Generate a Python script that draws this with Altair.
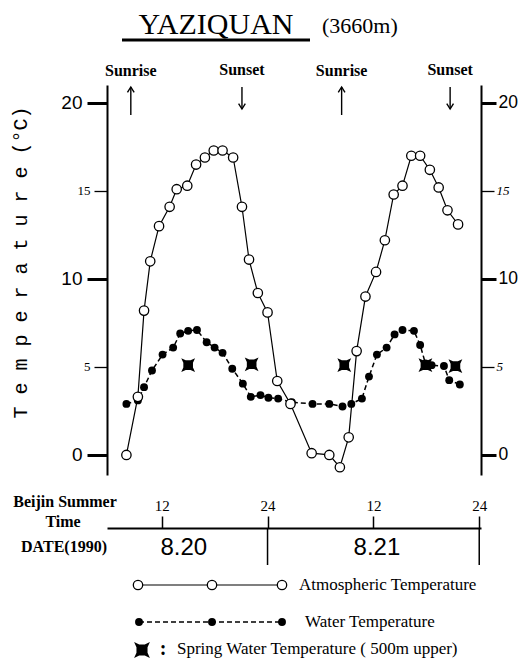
import altair as alt
import pandas as pd

# ---------------- data ----------------
atm_hour = [8.0, 9.3, 10.0, 10.7, 11.7, 12.9, 13.7, 14.9, 15.9, 16.9, 17.9, 18.9, 20.1, 21.1, 21.9,
            22.9, 24.0, 25.1, 26.6, 29.0, 31.0, 32.2, 33.2, 34.1, 35.1, 36.3, 37.3, 38.3, 39.3, 40.3,
            41.3, 42.4, 43.4, 44.4, 45.6]
atm_temp = [0.0, 3.3, 8.2, 11.0, 13.0, 14.1, 15.1, 15.3, 16.5, 16.9, 17.3, 17.3, 16.9, 14.1, 11.1,
            9.2, 8.1, 4.2, 2.9, 0.1, 0.0, -0.7, 1.0, 5.9, 9.0, 10.4, 12.2, 14.8, 15.3, 17.0,
            17.0, 16.2, 15.2, 13.9, 13.1]

water_hour = [8.0, 9.3, 10.0, 10.9, 12.1, 13.3, 14.1, 15.0, 16.0, 17.1, 18.0, 18.9, 20.0, 21.2, 22.1,
              23.2, 24.1, 25.2, 26.75, 29.1, 31.0, 32.5, 33.5, 34.7, 35.5, 36.4, 37.5, 38.4, 39.3,
              40.6, 41.3, 41.9, 42.6, 44.0, 44.6, 45.8]
water_temp = [2.9, 3.1, 3.85, 4.8, 5.7, 6.1, 6.9, 7.05, 7.1, 6.4, 6.1, 5.8, 4.9, 4.05, 3.3,
              3.4, 3.25, 3.2, 3.0, 2.9, 2.9, 2.75, 2.9, 3.2, 4.45, 5.7, 6.1, 6.85, 7.1,
              7.05, 6.25, 5.2, 5.1, 5.05, 4.25, 4.0]

spring_hour = [15.0, 22.2, 32.7, 41.9, 45.3]
spring_temp = [5.1, 5.15, 5.1, 5.1, 5.05]

sunrise_hour = [8.5, 32.4]
sunset_hour = [21.1, 44.7]

time_ticks = [12, 24, 36, 48]
day_bounds = [24, 48]
date_hour = [14.5, 36.4]
date_label = ["8.20", "8.21"]

y_ticks = [0, 5, 10, 15, 20]

atm = pd.DataFrame({"hour": atm_hour, "temp": atm_temp})
water = pd.DataFrame({"hour": water_hour, "temp": water_temp})
spring = pd.DataFrame({"hour": spring_hour, "temp": spring_temp})
rise = pd.DataFrame({"hour": sunrise_hour, "label": ["Sunrise"] * len(sunrise_hour)})
sets = pd.DataFrame({"hour": sunset_hour, "label": ["Sunset"] * len(sunset_hour)})
bounds = pd.DataFrame({"hour": day_bounds})
dates = pd.DataFrame({"hour": date_hour, "label": date_label})
one = pd.DataFrame({"a": [0]})

W, H = 374, 390
xs = alt.Scale(domain=[5.8, 48.2], nice=False, zero=False)
ys = alt.Scale(domain=[-1.14, 21.02], nice=False, zero=False)

MAJOR = "datum.value % 10 === 0"
SERIF = "Liberation Serif"
SANS = "Liberation Sans"

left_axis = alt.Axis(
    orient="left", values=y_ticks, grid=False,
    domainColor="black", domainWidth=2, tickColor="black",
    tickWidth={"condition": {"test": MAJOR, "value": 3}, "value": 1.3},
    tickSize={"condition": {"test": MAJOR, "value": 20}, "value": 13},
    labelFont={"condition": {"test": MAJOR, "value": SANS}, "value": SERIF},
    labelFontSize={"condition": {"test": MAJOR, "value": 19}, "value": 13},
    labelPadding={"condition": {"test": MAJOR, "value": 5}, "value": 4},
    labelColor="black",
    title="T e m p e r a t u r e  (°C)", titleFont="Liberation Mono", titleFontSize=20,
    titleFontWeight="normal", titleColor="black", titleAngle=270,
    titleX=-87, titleY=177, titleAlign="center", titleBaseline="middle",
)
right_axis = alt.Axis(
    orient="right", values=y_ticks, grid=False,
    domainColor="black", domainWidth=2, tickColor="black",
    tickWidth={"condition": {"test": MAJOR, "value": 3}, "value": 1.3},
    tickSize={"condition": {"test": MAJOR, "value": 15}, "value": 13},
    labelFont={"condition": {"test": MAJOR, "value": SANS}, "value": SERIF},
    labelFontSize={"condition": {"test": MAJOR, "value": 17.5}, "value": 13},
    labelFontStyle={"condition": {"test": MAJOR, "value": "normal"}, "value": "italic"},
    labelPadding=2, labelColor="black", title=None,
)
time_axis = alt.Axis(
    orient="top", offset=-443, values=time_ticks, grid=False,
    labelExpr="datum.value > 24 ? '' + (datum.value - 24) : datum.label",
    domainColor="black", domainWidth=2, tickColor="black", tickWidth=1.5, tickSize=12,
    labelFont=SERIF, labelFontSize=15, labelColor="black", labelPadding=3, title=None,
)

X = lambda ax=None: alt.X("hour:Q", scale=xs, axis=ax)

atm_line = alt.Chart(atm).mark_line(color="black", strokeWidth=1.2).encode(
    x=X(time_axis), y=alt.Y("temp:Q", scale=ys, axis=left_axis))
water_line = alt.Chart(water).mark_line(color="black", strokeWidth=1.5, strokeDash=[5, 3]).encode(
    x=X(), y=alt.Y("temp:Q", scale=ys, axis=right_axis))
water_pts = alt.Chart(water).mark_point(shape="circle", filled=True, color="black", opacity=1, size=62).encode(
    x=X(), y=alt.Y("temp:Q", scale=ys, axis=None))
STAR = ("M-1,-1 L-0.35,-0.7 L0.35,-0.7 L1,-1 L0.7,-0.35 L0.7,0.35 L1,1 L0.35,0.7 "
        "L-0.35,0.7 L-1,1 L-0.7,0.35 L-0.7,-0.35 Z")
spring_pts = alt.Chart(spring).mark_point(shape=STAR, filled=True, color="black", opacity=1, size=190).encode(
    x=X(), y=alt.Y("temp:Q", scale=ys, axis=None))
atm_pts = alt.Chart(atm).mark_point(shape="circle", filled=True, fill="white", stroke="black",
                                    strokeWidth=1.3, opacity=1, size=88).encode(
    x=X(), y=alt.Y("temp:Q", scale=ys, axis=None))

# sunrise / sunset
sun_text_r = alt.Chart(rise).mark_text(font=SERIF, fontSize=16, fontWeight="bold", baseline="middle",
                                        color="black").encode(x=X(), y=alt.value(-14), text="label:N")
sun_text_s = alt.Chart(sets).mark_text(font=SERIF, fontSize=16, fontWeight="bold", baseline="middle",
                                        color="black").encode(x=X(), y=alt.value(-15), text="label:N")
rise_shaft = alt.Chart(rise).mark_rule(color="black", strokeWidth=1.4).encode(
    x=X(), y=alt.value(2), y2=alt.value(30))
rise_head = alt.Chart(rise).mark_point(shape="M-1,1.6 L0,0 L1,1.6", filled=False, color="black",
                                       strokeWidth=1.4, opacity=1, size=45).encode(x=X(), y=alt.value(2))
set_shaft = alt.Chart(sets).mark_rule(color="black", strokeWidth=1.4).encode(
    x=X(), y=alt.value(2), y2=alt.value(24))
set_head = alt.Chart(sets).mark_point(shape="M-1,-1.6 L0,0 L1,-1.6", filled=False, color="black",
                                      strokeWidth=1.4, opacity=1, size=45).encode(x=X(), y=alt.value(24))

# title
title1 = alt.Chart(one).mark_text(text="YAZIQUAN", font=SERIF, fontSize=30, align="center",
                                  baseline="alphabetic", color="black").encode(x=alt.value(109), y=alt.value(-51))
title_ul = alt.Chart(one).mark_rule(color="black", strokeWidth=3).encode(
    x=alt.value(15), x2=alt.value(203), y=alt.value(-45))
title2 = alt.Chart(one).mark_text(text="(3660m)", font=SERIF, fontSize=22, align="left",
                                  baseline="alphabetic", color="black").encode(x=alt.value(215), y=alt.value(-52))

# bottom time / date axis texts
def lbl(txt, x, y, size=16, weight="bold", font=SERIF, align="center"):
    return alt.Chart(one).mark_text(text=txt, font=font, fontSize=size, fontWeight=weight, align=align,
                                    baseline="middle", color="black").encode(x=alt.value(x), y=alt.value(y))

bj1 = lbl("Beijin Summer", -42, 417)
bj2 = lbl("Time", -44, 437)
dt = lbl("DATE(1990)", -43, 462)
bound_rules = alt.Chart(bounds).mark_rule(color="black", strokeWidth=1.5).encode(
    x=X(), y=alt.value(443), y2=alt.value(480))
date_text = alt.Chart(dates).mark_text(font=SANS, fontSize=24, baseline="middle", color="black").encode(
    x=X(), y=alt.value(463), text="label:N")

# legend (drawn by hand)
leg_pts = pd.DataFrame({"lx": [31, 105, 175], "ly": [500, 500, 500]})
leg_pts2 = pd.DataFrame({"lx": [32, 105, 175], "ly": [537, 537, 537]})
leg_line1 = alt.Chart(one).mark_rule(color="black", strokeWidth=1.2).encode(
    x=alt.value(31), x2=alt.value(175), y=alt.value(500))
leg_circ1 = alt.Chart(leg_pts).mark_point(shape="circle", filled=True, fill="white", stroke="black",
                                          strokeWidth=1.3, opacity=1, size=88).encode(
    x=alt.X("lx:Q", scale=None), y=alt.Y("ly:Q", scale=None))
leg_line2 = alt.Chart(one).mark_rule(color="black", strokeWidth=1.5, strokeDash=[5, 3]).encode(
    x=alt.value(32), x2=alt.value(175), y=alt.value(537))
leg_circ2 = alt.Chart(leg_pts2).mark_point(shape="circle", filled=True, color="black", opacity=1, size=62).encode(
    x=alt.X("lx:Q", scale=None), y=alt.Y("ly:Q", scale=None))
leg_star = alt.Chart(one).mark_point(shape=STAR, filled=True, color="black", opacity=1, size=250).encode(
    x=alt.value(35), y=alt.value(565))
leg_t1 = lbl("Atmospheric Temperature", 192, 500, size=17, weight="normal", align="left")
leg_t2 = lbl("Water Temperature", 198, 537, size=17, weight="normal", align="left")
leg_colon = lbl(":", 56, 564, size=20, weight="bold", align="center")
leg_t3 = lbl("Spring Water Temperature ( 500m  upper)", 70, 564, size=17, weight="normal", align="left")

chart = alt.layer(
    atm_line, water_line, water_pts, spring_pts, atm_pts,
    sun_text_r, sun_text_s, rise_shaft, rise_head, set_shaft, set_head,
    title1, title_ul, title2,
    bj1, bj2, dt, bound_rules, date_text,
    leg_line1, leg_circ1, leg_line2, leg_circ2, leg_star, leg_t1, leg_t2, leg_colon, leg_t3,
).resolve_axis(x="independent", y="independent").properties(
    width=W, height=H,
    autosize=alt.AutoSizeParams(type="none"),
    padding={"left": 99, "top": 77, "right": 38, "bottom": 185},
    background="white",
).configure_view(stroke=None)

chart.save("out.html", embed_options={"renderer": "svg", "actions": False})
